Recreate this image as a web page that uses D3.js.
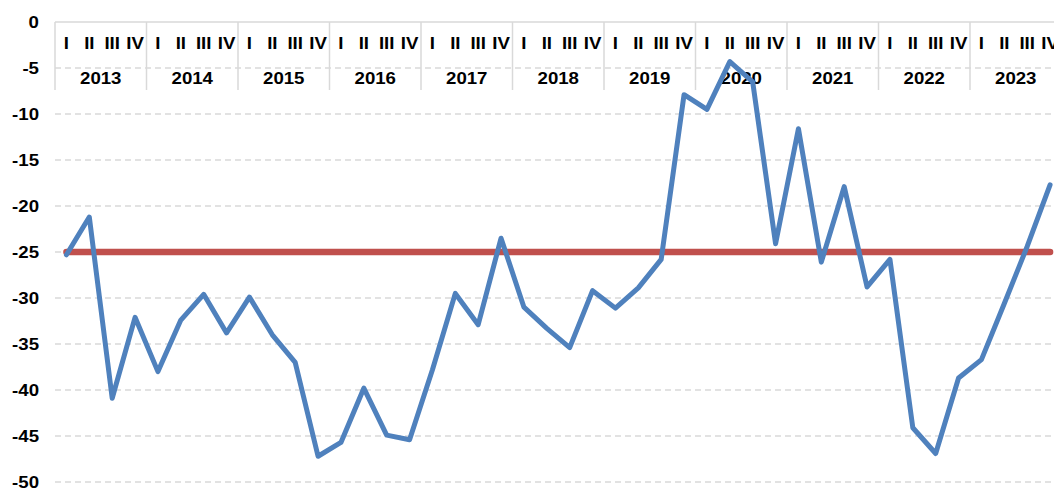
<!DOCTYPE html>
<html>
<head>
<meta charset="utf-8">
<script src="https://cdn.jsdelivr.net/npm/d3@7"></script>
<style>
  body { margin: 0; background: #fff; }
  text { font-family: "Liberation Sans", Arial, sans-serif; font-weight: bold; fill: #000; font-size: 16.5px; }
</style>
</head>
<body>
<div id="chart"></div>
<script>
const years = ["2013", "2014", "2015", "2016", "2017", "2018", "2019", "2020", "2021", "2022", "2023"];
const quarters = ["I", "II", "III", "IV"];
const values = [
  -25.3, -21.2, -40.9, -32.1, -38.0, -32.4, -29.6, -33.8, -29.9, -34.0, -37.0,
  -47.2, -45.7, -39.8, -44.9, -45.4, -37.8, -29.5, -32.9, -23.5, -31.0, -33.3,
  -35.4, -29.2, -31.1, -28.9, -25.8, -7.9, -9.5, -4.3, -6.5, -24.1, -11.6,
  -26.1, -17.9, -28.8, -25.8, -44.1, -46.9, -38.7, -36.7, -30.6, -24.4, -17.7
];
const average = -25;
const yTicks = [0, -5, -10, -15, -20, -25, -30, -35, -40, -45, -50];

const width = 1054, height = 489;
const margin = {left: 55, top: 22};
const yearWidth = 91.5;
const stretch = 1.13; // text in the original is a bit wide

let svg = d3.select("#chart")
    .append("svg")
    .attr("width", width)
    .attr("height", height);

let idx = values.map((d, i) => i);
let x = d3.scaleBand()
    .domain(idx)
    .range([margin.left, margin.left + years.length * yearWidth]);
let xYear = d3.scaleBand()
    .domain(years)
    .range([margin.left, margin.left + years.length * yearWidth]);
let y = d3.scaleLinear()
    .domain([-50, 0])
    .range([482, margin.top]);

// dashed gridlines
svg.append("g")
    .selectAll("line")
    .data(yTicks.filter(d => d !== 0))
    .enter()
    .append("line")
    .attr("x1", margin.left)
    .attr("x2", width)
    .attr("y1", d => y(d))
    .attr("y2", d => y(d))
    .attr("stroke", "#d9d9d9")
    .attr("stroke-width", 1.5)
    .attr("stroke-dasharray", "6,4");

// top solid line and year separators
svg.append("line")
    .attr("x1", margin.left).attr("x2", width)
    .attr("y1", y(0)).attr("y2", y(0))
    .attr("stroke", "#d9d9d9")
    .attr("stroke-width", 1.5);

svg.append("g")
    .selectAll("line")
    .data(years)
    .enter()
    .append("line")
    .attr("x1", d => xYear(d))
    .attr("x2", d => xYear(d))
    .attr("y1", y(0))
    .attr("y2", 90)
    .attr("stroke", "#d9d9d9")
    .attr("stroke-width", 1.5);

// y labels
svg.append("g")
    .selectAll("text")
    .data(yTicks)
    .enter()
    .append("text")
    .attr("transform", d => `translate(39, ${y(d) + 6}) scale(${stretch}, 1)`)
    .attr("text-anchor", "end")
    .text(d => d);

// quarter labels
svg.append("g")
    .selectAll("text")
    .data(idx)
    .enter()
    .append("text")
    .attr("transform", d => `translate(${x(d) + x.bandwidth() / 2}, 49) scale(${stretch}, 1)`)
    .attr("text-anchor", "middle")
    .text(d => quarters[d % 4]);

// year labels
svg.append("g")
    .selectAll("text")
    .data(years)
    .enter()
    .append("text")
    .attr("transform", d => `translate(${xYear(d) + xYear.bandwidth() / 2}, 84) scale(${stretch}, 1)`)
    .attr("text-anchor", "middle")
    .text(d => d);

// average line
svg.append("line")
    .attr("x1", x(0) + x.bandwidth() / 2)
    .attr("x2", x(values.length - 1) + x.bandwidth() / 2)
    .attr("y1", y(average))
    .attr("y2", y(average))
    .attr("stroke", "#c0504d")
    .attr("stroke-width", 6.5)
    .attr("stroke-linecap", "round");

// main series
let line = d3.line()
    .x((d, i) => x(i) + x.bandwidth() / 2)
    .y(d => y(d));

svg.append("path")
    .datum(values)
    .attr("d", line)
    .attr("fill", "none")
    .attr("stroke", "#4f81bd")
    .attr("stroke-width", 5)
    .attr("stroke-linejoin", "round")
    .attr("stroke-linecap", "round");
</script>
</body>
</html>
